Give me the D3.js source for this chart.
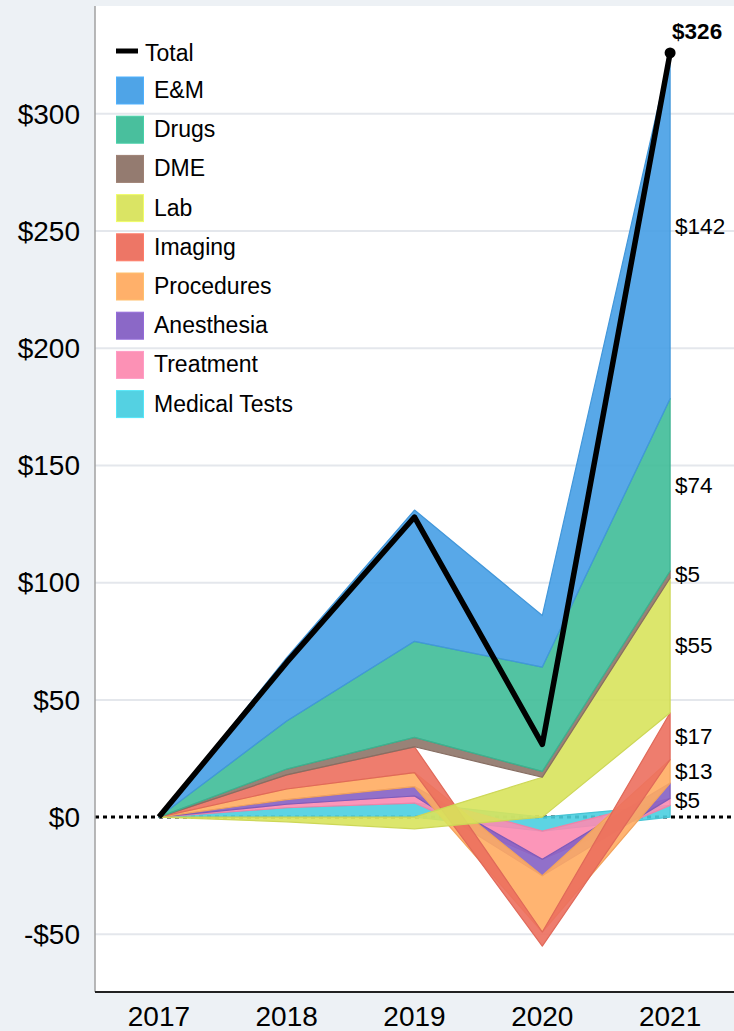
<!DOCTYPE html>
<html>
<head>
<meta charset="utf-8">
<script src="https://cdn.jsdelivr.net/npm/d3@7"></script>
<style>
  html, body { margin: 0; padding: 0; background: #edf1f5; }
  svg { display: block; font-family: "Liberation Sans", Arial, sans-serif; }
</style>
</head>
<body>
<svg id="chart" width="734" height="1031"></svg>
<script>
// ---- data ----
const years = ["2017", "2018", "2019", "2020", "2021"];
const totalValues = [0, 66, 128, 31, 326];

const seriesNames = ["Medical Tests", "Treatment", "Anesthesia", "Procedures", "Imaging", "Lab", "DME", "Drugs", "E&M"];
const medicalTests = [0, 4, 6, -6, 5];
const treatment    = [0, 1.5, 3, -12, 3];
const anesthesia   = [0, 2, 4, -7, 6.5];
const procedures   = [0, 4.5, 6, -24, 10];
const imaging      = [0, 6, 11, -6, 20];
const lab          = [0, -2, -5, 17, 57.5];
const dme          = [0, 2.5, 4, 2.5, 3];
const drugs        = [0, 20.5, 41, 44.5, 73.5];
const em           = [0, 27, 56, 22, 147];
const seriesValues = [medicalTests, treatment, anesthesia, procedures, imaging, lab, dme, drugs, em];

const legendOrder = ["E&M", "Drugs", "DME", "Lab", "Imaging", "Procedures", "Anesthesia", "Treatment", "Medical Tests"];
const yTicks = [-50, 0, 50, 100, 150, 200, 250, 300];

// 2021 end labels
const endLabelSeries = ["E&M", "Drugs", "DME", "Lab", "Imaging", "Procedures", "Anesthesia"];
const endLabelValues = [142, 74, 5, 55, 17, 13, 5];

// ---- styles ----
const colors = {
  "E&M": "#469fe6", "Drugs": "#3fbc98", "DME": "#8e7468", "Lab": "#d8e35c",
  "Imaging": "#ec6f5e", "Procedures": "#ffac62", "Anesthesia": "#8560c4",
  "Treatment": "#fc8bb1", "Medical Tests": "#4bcfe0"
};

const W = 734, H = 1031;
const plot = { left: 95, right: 734, top: 6, bottom: 992 };

const svg = d3.select("#chart");

const x = d3.scalePoint().domain(years).range([plot.left, plot.right]).padding(0.5);
const y = d3.scaleLinear().domain([-74.6, 346]).range([plot.bottom, plot.top]);

// plot background
svg.append("rect").attr("x", plot.left).attr("y", plot.top)
  .attr("width", plot.right - plot.left).attr("height", plot.bottom - plot.top)
  .attr("fill", "#ffffff");

// gridlines
svg.append("g").selectAll("line").data(yTicks.filter(t => t !== 0)).join("line")
  .attr("x1", plot.left).attr("x2", plot.right)
  .attr("y1", d => y(d)).attr("y2", d => y(d))
  .attr("stroke", "#e4e7ec").attr("stroke-width", 2);

// zero line (dotted)
svg.append("line").attr("x1", plot.left).attr("x2", plot.right)
  .attr("y1", y(0)).attr("y2", y(0))
  .attr("stroke", "#000").attr("stroke-width", 3).attr("stroke-dasharray", "4,4");

// stacked data
const table = years.map((yr, i) => {
  const row = { year: yr };
  seriesNames.forEach((s, k) => { row[s] = seriesValues[k][i]; });
  return row;
});
const stack = d3.stack().keys(seriesNames).offset(d3.stackOffsetDiverging);
const stacked = stack(table);

const area = d3.area()
  .x(d => x(d.data.year))
  .y0(d => y(d[0]))
  .y1(d => y(d[1]));

svg.append("g").selectAll("path").data(stacked).join("path")
  .attr("d", area)
  .attr("fill", d => colors[d.key])
  .attr("fill-opacity", 0.9)
  .attr("stroke", d => d3.color(colors[d.key]).darker(0.15))
  .attr("stroke-width", 1.2)
  .attr("stroke-linejoin", "round");

// total line
const line = d3.line().x((d, i) => x(years[i])).y(d => y(d));
svg.append("path").datum(totalValues)
  .attr("d", line)
  .attr("fill", "none").attr("stroke", "#000").attr("stroke-width", 5.5)
  .attr("stroke-linejoin", "round");
svg.append("circle")
  .attr("cx", x(years[4])).attr("cy", y(totalValues[4])).attr("r", 5.5)
  .attr("fill", "#000");
svg.append("text")
  .attr("x", x(years[4]) + 2).attr("y", y(totalValues[4]) - 14)
  .attr("font-size", 22.5).attr("font-weight", "bold").attr("fill", "#000")
  .text("$" + totalValues[4]);

// end labels (midpoint of 2021 segment, dodged)
const last = years.length - 1;
let labelPos = endLabelSeries.map((s, i) => {
  const layer = stacked.find(l => l.key === s);
  const seg = layer[last];
  return { text: "$" + endLabelValues[i], py: y((seg[0] + seg[1]) / 2) };
});
labelPos.sort((a, b) => a.py - b.py);
for (let i = 1; i < labelPos.length; i++) {
  if (labelPos[i].py - labelPos[i - 1].py < 29) labelPos[i].py = labelPos[i - 1].py + 29;
}
svg.append("g").selectAll("text").data(labelPos).join("text")
  .attr("x", x(years[last]) + 5).attr("y", d => d.py)
  .attr("dy", "0.35em")
  .attr("font-size", 22.5).attr("fill", "#000")
  .text(d => d.text);

// axes
svg.append("line").attr("x1", plot.left).attr("x2", plot.left)
  .attr("y1", plot.top).attr("y2", plot.bottom)
  .attr("stroke", "#a0a0a0").attr("stroke-width", 1.5);
svg.append("line").attr("x1", plot.left).attr("x2", plot.right)
  .attr("y1", plot.bottom).attr("y2", plot.bottom)
  .attr("stroke", "#222").attr("stroke-width", 2);

svg.append("g").selectAll("text").data(yTicks).join("text")
  .attr("x", 80).attr("y", d => y(d)).attr("dy", "0.35em")
  .attr("text-anchor", "end").attr("font-size", 28).attr("fill", "#000")
  .text(d => (d < 0 ? "-$" : "$") + Math.abs(d));

svg.append("g").selectAll("text").data(years).join("text")
  .attr("x", d => x(d)).attr("y", 1026)
  .attr("text-anchor", "middle").attr("font-size", 28).attr("fill", "#000")
  .text(d => d);

// legend
const lg = svg.append("g");
lg.append("line").attr("x1", 116).attr("x2", 138).attr("y1", 51).attr("y2", 51)
  .attr("stroke", "#000").attr("stroke-width", 5);
lg.append("text").attr("x", 145).attr("y", 53).attr("dy", "0.35em")
  .attr("font-size", 23).text("Total");
const rows = lg.selectAll("g.row").data(legendOrder).join("g")
  .attr("class", "row")
  .attr("transform", (d, i) => `translate(0, ${90 + i * 39.2})`);
rows.append("rect").attr("x", 116.5).attr("y", -13).attr("width", 27).attr("height", 27)
  .attr("fill", d => colors[d]).attr("fill-opacity", 0.95)
  .attr("stroke", d => d3.color(colors[d]).brighter(0.3)).attr("stroke-width", 1);
rows.append("text").attr("x", 154).attr("y", 0).attr("dy", "0.35em")
  .attr("font-size", 23).text(d => d);
</script>
</body>
</html>
